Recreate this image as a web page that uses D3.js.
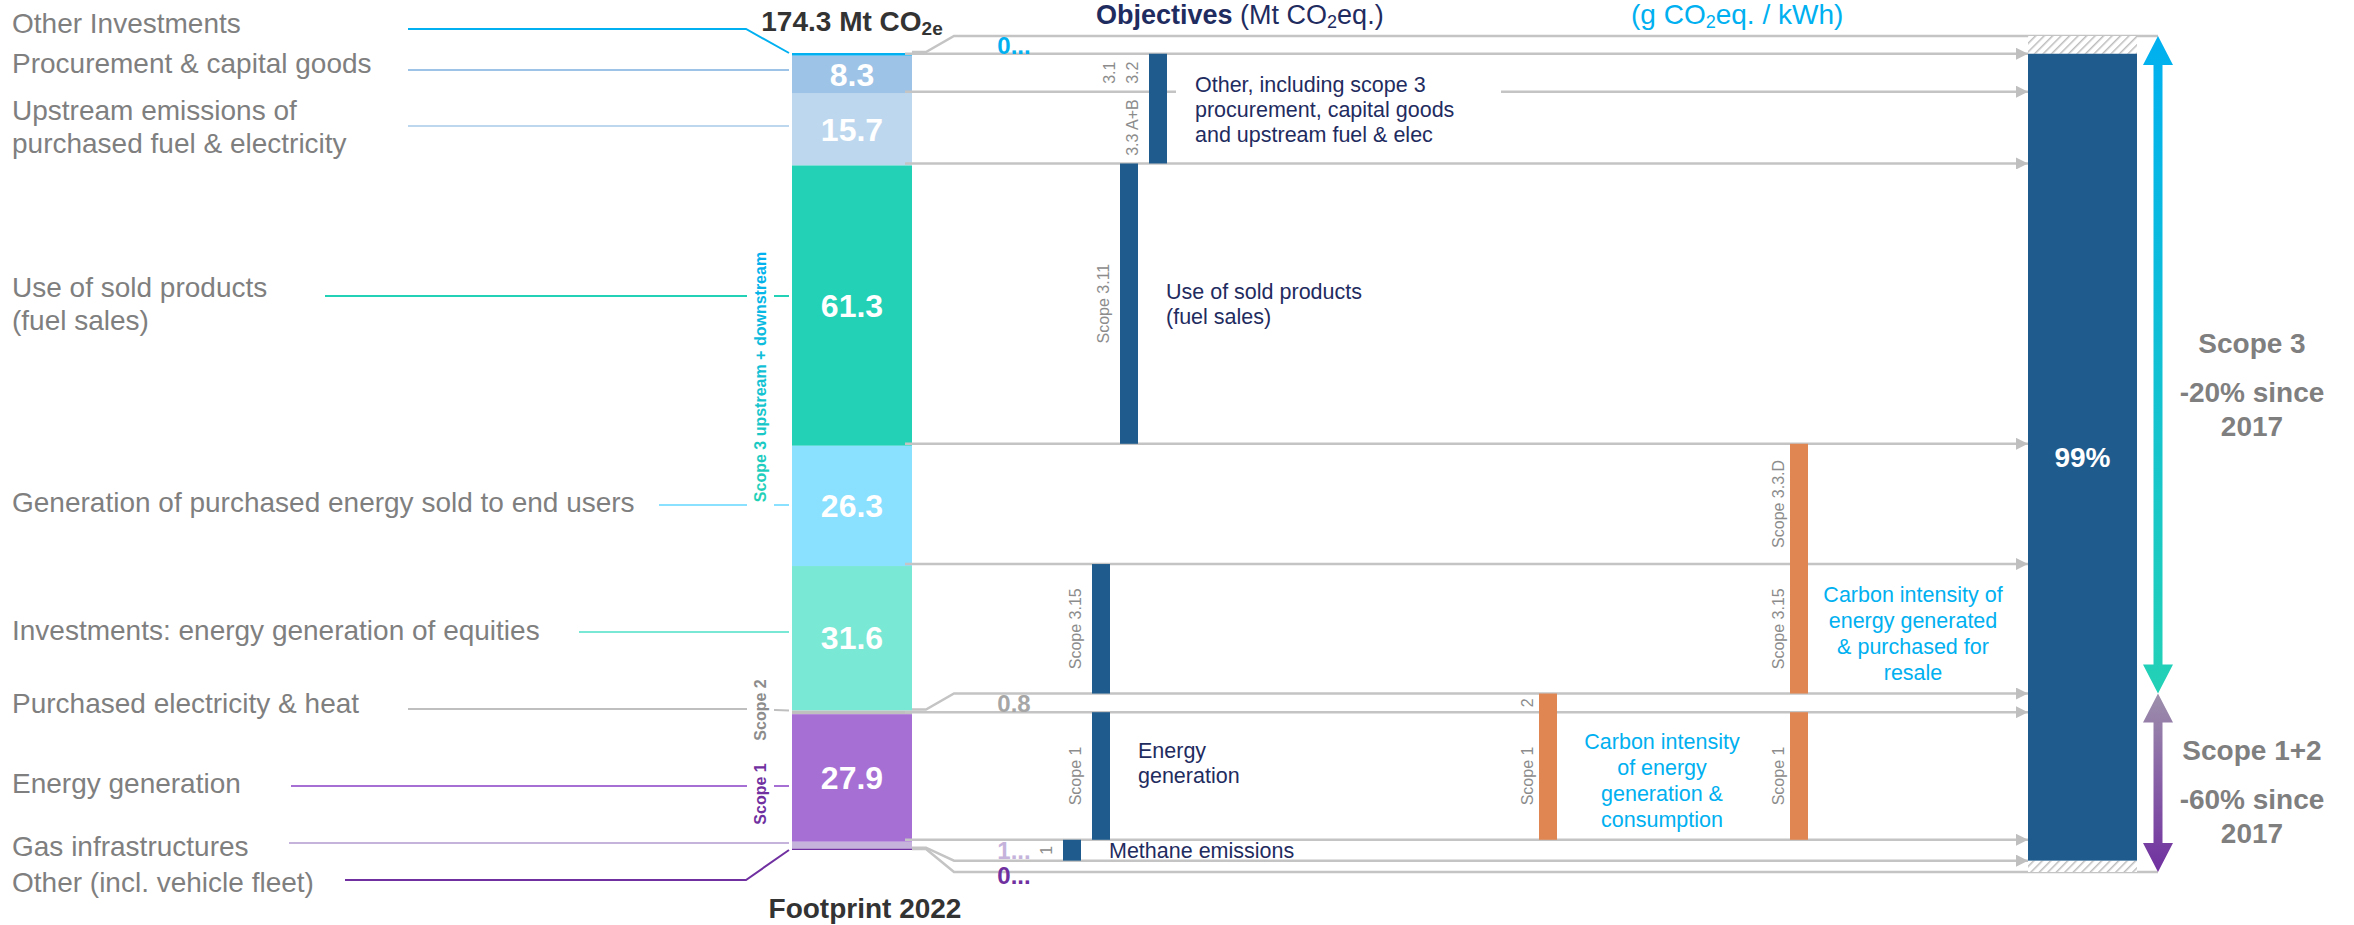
<!DOCTYPE html>
<html>
<head>
<meta charset="utf-8">
<script src="https://cdn.jsdelivr.net/npm/d3@7"></script>
<style>
html,body{margin:0;padding:0;background:#fff;}
svg{display:block;}
</style>
</head>
<body>
<script>
// ---------------- DATA ----------------
const segmentLabels = [
  ["Other Investments"],
  ["Procurement & capital goods"],
  ["Upstream emissions of", "purchased fuel & electricity"],
  ["Use of sold products", "(fuel sales)"],
  ["Generation of purchased energy sold to end users"],
  ["Investments: energy generation of equities"],
  ["Purchased electricity & heat"],
  ["Energy generation"],
  ["Gas infrastructures"],
  ["Other (incl. vehicle fleet)"]
];
const footprint2022 = [0.6, 8.3, 15.7, 61.3, 26.3, 31.6, 0.8, 27.9, 1.5, 0.3];
const footprintText = ["0...", "8.3", "15.7", "61.3", "26.3", "31.6", "0.8", "27.9", "1...", "0..."];
const totalFootprint = 174.3;
const segmentColors = ["#00b0f0", "#9dc3e6", "#bdd7ee", "#23d1b6", "#8ae0ff", "#79e8d5", "#bfbfbf", "#a66fd4", "#c5b3dc", "#7030a0"];
const smallLabelColors = ["#00b0f0", null, null, null, null, null, "#a6a6a6", null, "#c5b3dc", "#7030a0"];

const scopeGroups = ["Scope 3 upstream + downstream", "Scope 2", "Scope 1"];
const scopeGroupColors = ["url(#gScope3Text)", "#8c8c8c", "#7030a0"];

// Objectives in absolute emissions (Mt CO2eq.) - segment ranges covered
const absObjectives = [
  {col: 3, segFrom: 1, segTo: 2, tags: [{seg: 1, lines: ["3.1", "3.2"]}, {seg: 2, lines: ["3.3 A+B"]}],
   desc: ["Other, including scope 3", "procurement, capital goods", "and upstream fuel & elec"], descFrom: 1, descTo: 2},
  {col: 2, segFrom: 3, segTo: 3, tags: [{seg: 3, lines: ["Scope 3.11"]}],
   desc: ["Use of sold products", "(fuel sales)"], descFrom: 3, descTo: 3},
  {col: 1, segFrom: 5, segTo: 5, tags: [{seg: 5, lines: ["Scope 3.15"]}], desc: []},
  {col: 1, segFrom: 7, segTo: 7, tags: [{seg: 7, lines: ["Scope 1"]}],
   desc: ["Energy", "generation"], descFrom: 7, descTo: 7},
  {col: 0, segFrom: 8, segTo: 8, tags: [{seg: 8, lines: ["1"]}],
   desc: ["Methane emissions"], descFrom: 8, descTo: 8}
];
// Objectives in carbon intensity (g CO2eq. / kWh)
const intensityObjectives = [
  {col: 1, segFrom: 4, segTo: 5, tags: [{seg: 4, lines: ["Scope 3.3.D"]}, {seg: 5, lines: ["Scope 3.15"]}],
   desc: ["Carbon intensity of", "energy generated", "& purchased for", "resale"], descFrom: 5, descTo: 5},
  {col: 0, segFrom: 6, segTo: 7, tags: [{seg: 6, lines: ["2"]}, {seg: 7, lines: ["Scope 1"]}],
   desc: ["Carbon intensity", "of energy", "generation &", "consumption"], descFrom: 7, descTo: 7},
  {col: 1, segFrom: 7, segTo: 7, tags: [{seg: 7, lines: ["Scope 1"]}], desc: []}
];
const coverageShare = "99%";
const reductionGroups = [
  {from: 0, to: 6, lines: ["Scope 3", "-20% since", "2017"], colors: ["#00b0f0", "#23d1b6"]},
  {from: 6, to: 10, lines: ["Scope 1+2", "-60% since", "2017"], colors: ["#9d8fab", "#7030a0"]}
];

// ---------------- LAYOUT ----------------
const FONT = '"Liberation Sans", Arial, Helvetica, sans-serif';
const W = 2354, H = 925;
const barX = 792, barW = 120, barR = barX + barW;
const labelX = 12;
const labelBaseline = [33, 73, 120, 297, 512, 640, 713, 793, 856, 892];
const leaderY = [29, 70, 126, 296, 505, 632, 709, 786, 843, 880];
const leaderStart = [408, 408, 408, 325, 659, 579, 408, 291, 289, 345];
const leaderBreak = 746;
const scopeLabelX = 760;
const scopeLabelCY = [377, 710, 794];
const flowShift = [-17, -2, -2, -2, -2, -2, -17, -2, -2, 12, 22];
const absColX = [1063, 1092, 1120, 1149];
const intColX = [1539, 1790];
const objW = 18;
const rightBarX = 2028, rightBarW = 109;
const arrowX = 2158;
const reductionTextX = 2252;
const reductionTextShift = [20, 9];
const NAVY = "#1f5b8c", ORANGE = "#e08652", DARKNAVY = "#1f2c5f", FLOW = "#c4c4c4";

// ---------------- SCALES ----------------
const y = d3.scaleLinear().domain([0, totalFootprint]).range([53, 850]);
const cum = [0];
footprint2022.forEach(v => cum.push(+(cum[cum.length - 1] + v).toFixed(3)));
const rightY = cum.map((c, i) => y(c) + flowShift[i]);

const svg = d3.select("body").append("svg")
  .attr("width", W).attr("height", H)
  .style("font-family", FONT);
svg.append("rect").attr("width", W).attr("height", H).attr("fill", "#fff");

const defs = svg.append("defs");
defs.append("marker").attr("id", "arrowGray")
  .attr("viewBox", "0 0 12 12").attr("refX", 12).attr("refY", 6)
  .attr("markerWidth", 12).attr("markerHeight", 12)
  .attr("markerUnits", "userSpaceOnUse").attr("orient", "auto")
  .append("path").attr("d", "M0,0L12,6L0,12Z").attr("fill", "#bfbfbf");
const hatch = defs.append("pattern").attr("id", "hatch")
  .attr("patternUnits", "userSpaceOnUse").attr("width", 6).attr("height", 6)
  .attr("patternTransform", "rotate(45)");
hatch.append("rect").attr("width", 6).attr("height", 6).attr("fill", "#fff");
hatch.append("line").attr("x1", 0).attr("y1", 0).attr("x2", 0).attr("y2", 6)
  .attr("stroke", "#bdbdbd").attr("stroke-width", 3);
const g3 = defs.append("linearGradient").attr("id", "gScope3Text")
  .attr("x1", 0).attr("y1", 0).attr("x2", 1).attr("y2", 0);
g3.append("stop").attr("offset", "0%").attr("stop-color", "#23d1b6");
g3.append("stop").attr("offset", "100%").attr("stop-color", "#00b0f0");
reductionGroups.forEach((g, i) => {
  const lg = defs.append("linearGradient").attr("id", "gArrow" + i)
    .attr("x1", 0).attr("y1", 0).attr("x2", 0).attr("y2", 1);
  lg.append("stop").attr("offset", "0%").attr("stop-color", g.colors[0]);
  lg.append("stop").attr("offset", "100%").attr("stop-color", g.colors[1]);
});

// ---------------- LEFT LABELS + LEADERS ----------------
const gLeft = svg.append("g");
segmentLabels.forEach((lines, i) => {
  const t = gLeft.append("text").attr("x", labelX).attr("y", labelBaseline[i])
    .attr("font-size", 28).attr("fill", "#7f7f7f");
  lines.forEach((ln, k) => t.append("tspan").attr("x", labelX).attr("dy", k === 0 ? 0 : 33).text(ln));
  const y0 = y(cum[i]), y1 = y(cum[i + 1]);
  const endY = Math.max(y0, Math.min(y1, leaderY[i]));
  gLeft.append("path")
    .attr("d", `M${leaderStart[i]},${leaderY[i]}L${leaderBreak},${leaderY[i]}L${barX - 3},${endY}`)
    .attr("fill", "none").attr("stroke", segmentColors[i]).attr("stroke-width", 2);
});

// vertical scope labels with knockout
scopeGroups.forEach((lab, i) => {
  const t = svg.append("text")
    .attr("transform", `translate(${scopeLabelX + 6},${scopeLabelCY[i]}) rotate(-90)`)
    .attr("text-anchor", "middle").attr("font-size", 16).attr("font-weight", "bold")
    .attr("fill", scopeGroupColors[i]).text(lab);
  const len = t.node().getComputedTextLength();
  svg.insert("rect", () => t.node())
    .attr("x", scopeLabelX - 13).attr("width", 27)
    .attr("y", scopeLabelCY[i] - len / 2 - 4).attr("height", len + 8)
    .attr("fill", "#fff");
});

// ---------------- MAIN STACKED BAR ----------------
const gBar = svg.append("g");
gBar.selectAll("rect").data(footprint2022).join("rect")
  .attr("x", barX).attr("width", barW)
  .attr("y", (d, i) => y(cum[i]))
  .attr("height", (d, i) => y(cum[i + 1]) - y(cum[i]))
  .attr("fill", (d, i) => segmentColors[i]);
footprint2022.forEach((v, i) => {
  if (v < 5) return;
  gBar.append("text").attr("x", barX + barW / 2)
    .attr("y", (y(cum[i]) + y(cum[i + 1])) / 2 + 11)
    .attr("text-anchor", "middle").attr("font-size", 32).attr("font-weight", "bold")
    .attr("fill", "#fff").text(footprintText[i]);
});

// ---------------- FLOW LINES ----------------
const gFlow = svg.append("g");
rightY.forEach((ry, b) => {
  const ly = y(cum[b]);
  const spread = Math.abs(flowShift[b]) > 5;
  const toArrow = b > 0 && b < rightY.length - 1;
  const endX = toArrow ? rightBarX : arrowX;
  const d = spread
    ? `M${barR},${ly - 1}L${barR + 14},${ly - 1}L${barR + 42},${ry}L${endX},${ry}`
    : `M${barR - 7},${ry}L${endX},${ry}`;
  gFlow.append("path").attr("d", d).attr("fill", "none")
    .attr("stroke", FLOW).attr("stroke-width", 2.5)
    .attr("marker-end", toArrow ? "url(#arrowGray)" : null);
});
// small value labels for the spread bands
footprint2022.forEach((v, i) => {
  if (v >= 5) return;
  const yy = i === footprint2022.length - 1 ? rightY[i + 1] + 12 : (rightY[i] + rightY[i + 1]) / 2 + 9;
  gFlow.append("text").attr("x", 1014).attr("y", yy)
    .attr("text-anchor", "middle").attr("font-size", 24).attr("font-weight", "bold")
    .attr("fill", smallLabelColors[i]).text(footprintText[i]);
});

// ---------------- OBJECTIVE BARS ----------------
function drawObjectives(list, colX, color, tagOffset, descMode) {
  const g = svg.append("g");
  list.forEach(o => {
    const x0 = colX[o.col];
    const yTop = rightY[o.segFrom], yBot = rightY[o.segTo + 1];
    if (o.desc.length && descMode === "start" && o.segFrom === 1) {
      // knockout of the flow line behind the first description line
      g.append("rect").attr("x", x0 + objW + 9).attr("width", 325)
        .attr("y", rightY[2] - 3).attr("height", 6).attr("fill", "#fff");
    }
    g.append("rect").attr("x", x0).attr("width", objW)
      .attr("y", yTop).attr("height", yBot - yTop).attr("fill", color);
    o.tags.forEach(tg => {
      const cy = (rightY[tg.seg] + rightY[tg.seg + 1]) / 2;
      const n = tg.lines.length;
      tg.lines.forEach((ln, k) => {
        const bx = x0 - tagOffset - (n - 1 - k) * 23;
        g.append("text").attr("transform", `translate(${bx},${cy}) rotate(-90)`)
          .attr("text-anchor", "middle").attr("font-size", 16)
          .attr("fill", "#8c8c8c").text(ln);
      });
    });
    if (o.desc.length) {
      const cy = (rightY[o.descFrom] + rightY[o.descTo + 1]) / 2;
      const lh = descMode === "start" ? 25 : 26;
      let first = cy - (o.desc.length - 1) * lh / 2 + (descMode === "start" ? 8 : 12);
      if (descMode === "start" && o.desc[0] === "Energy") first -= 13;
      const tx = descMode === "start" ? x0 + objW + 28 : x0 + objW + 105;
      const t = g.append("text").attr("x", tx).attr("y", first)
        .attr("text-anchor", descMode === "start" ? "start" : "middle")
        .attr("font-size", 21.5).attr("fill", descMode === "start" ? DARKNAVY : "#00b0f0");
      o.desc.forEach((ln, k) => t.append("tspan").attr("x", tx).attr("dy", k === 0 ? 0 : lh).text(ln));
    }
  });
}
drawObjectives(absObjectives, absColX, NAVY, 11, "start");
drawObjectives(intensityObjectives, intColX, ORANGE, 6, "middle");

// ---------------- RIGHT BAR ----------------
const last = rightY.length - 1;
svg.append("rect").attr("x", rightBarX).attr("width", rightBarW)
  .attr("y", rightY[0]).attr("height", rightY[1] - rightY[0]).attr("fill", "url(#hatch)");
svg.append("rect").attr("x", rightBarX).attr("width", rightBarW)
  .attr("y", rightY[last - 1]).attr("height", rightY[last] - rightY[last - 1]).attr("fill", "url(#hatch)");
svg.append("rect").attr("x", rightBarX).attr("width", rightBarW)
  .attr("y", rightY[1]).attr("height", rightY[last - 1] - rightY[1]).attr("fill", NAVY);
svg.append("text").attr("x", rightBarX + rightBarW / 2)
  .attr("y", (rightY[1] + rightY[last - 1]) / 2 + 10)
  .attr("text-anchor", "middle").attr("font-size", 28).attr("font-weight", "bold")
  .attr("fill", "#fff").text(coverageShare);

// ---------------- REDUCTION ARROWS ----------------
reductionGroups.forEach((gr, i) => {
  const y1 = rightY[gr.from], y2 = rightY[gr.to];
  const hl = 29, hw = 15, sw = 4.5, cx = arrowX;
  const d = `M${cx},${y1}L${cx + hw},${y1 + hl}L${cx + sw},${y1 + hl}L${cx + sw},${y2 - hl}L${cx + hw},${y2 - hl}` +
            `L${cx},${y2}L${cx - hw},${y2 - hl}L${cx - sw},${y2 - hl}L${cx - sw},${y1 + hl}L${cx - hw},${y1 + hl}Z`;
  svg.append("path").attr("d", d).attr("fill", `url(#gArrow${i})`);
  const center = (y1 + y2) / 2 + reductionTextShift[i];
  const t = svg.append("text").attr("x", reductionTextX).attr("y", center - 32)
    .attr("text-anchor", "middle").attr("font-size", 28).attr("font-weight", "bold").attr("fill", "#7f7f7f");
  const offs = [0, 49, 34];
  gr.lines.forEach((ln, k) => t.append("tspan").attr("x", reductionTextX).attr("dy", offs[k]).text(ln));
});

// ---------------- HEADERS ----------------
const tTot = svg.append("text").attr("x", barX + barW / 2).attr("y", 31)
  .attr("text-anchor", "middle").attr("font-size", 28).attr("font-weight", "bold").attr("fill", "#333");
tTot.append("tspan").text(totalFootprint + " Mt CO");
tTot.append("tspan").attr("font-size", 19).attr("dy", 4).text("2e");

svg.append("text").attr("x", barX + barW / 2 + 13).attr("y", 918)
  .attr("text-anchor", "middle").attr("font-size", 28).attr("font-weight", "bold")
  .attr("fill", "#333").text("Footprint 2022");

const tObj = svg.append("text").attr("x", 1096).attr("y", 24).attr("font-size", 27).attr("fill", DARKNAVY);
tObj.append("tspan").attr("font-weight", "bold").text("Objectives");
tObj.append("tspan").text(" (Mt CO");
tObj.append("tspan").attr("font-size", 18).attr("dy", 4).text("2");
tObj.append("tspan").attr("dy", -4).text("eq.)");

const tInt = svg.append("text").attr("x", 1631).attr("y", 24).attr("font-size", 28).attr("fill", "#00b0f0");
tInt.append("tspan").text("(g CO");
tInt.append("tspan").attr("font-size", 18).attr("dy", 4).text("2");
tInt.append("tspan").attr("dy", -4).text("eq. / kWh)");
</script>
</body>
</html>
